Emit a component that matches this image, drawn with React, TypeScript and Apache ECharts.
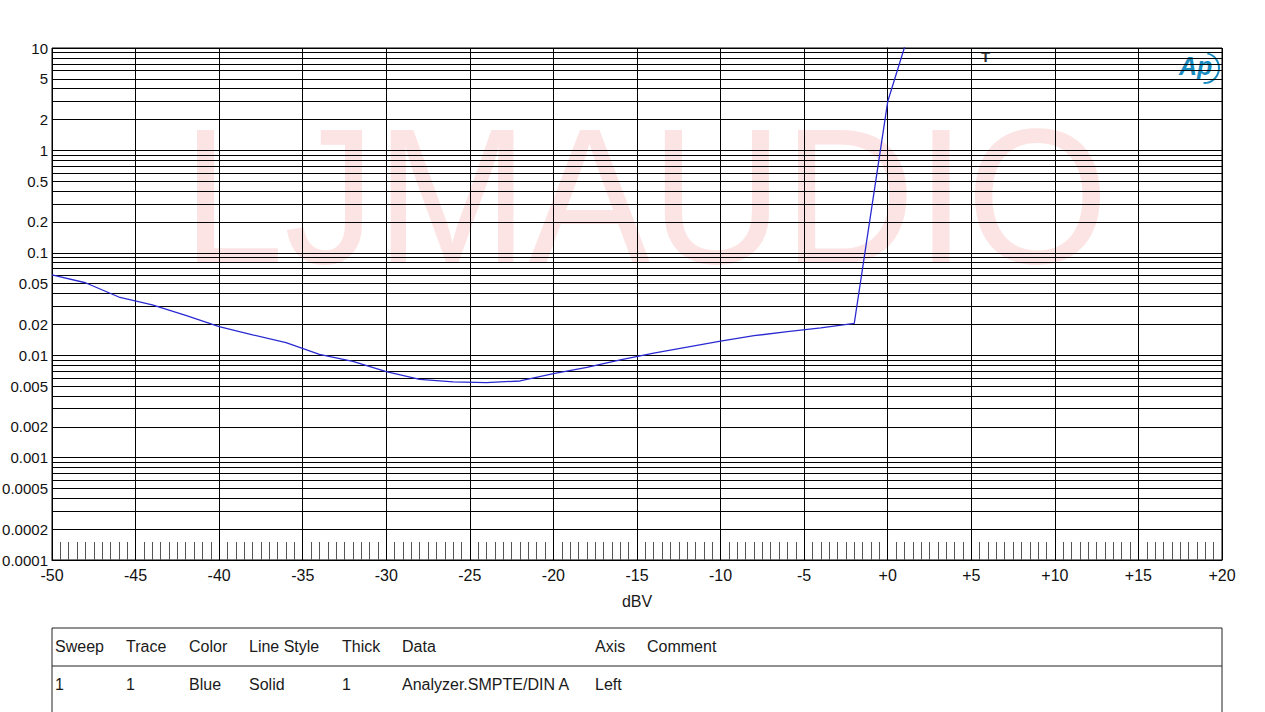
import React, { useEffect, useRef } from "react";
import * as echarts from "echarts";

// ---- Data ----
const levelsDBV: number[] = [
  -50, -48, -46, -44, -42, -40, -38, -36, -34, -32, -30, -28, -26, -24, -22,
  -20, -18, -16, -14, -12, -10, -8, -6, -4, -2, 0, 2,
];
const imdPercent: number[] = [
  0.061, 0.051, 0.037, 0.031, 0.0245, 0.019, 0.0158, 0.0133, 0.0102, 0.0087,
  0.0069, 0.0058, 0.0055, 0.0054, 0.0056, 0.0066, 0.0076, 0.009, 0.0105,
  0.012, 0.0137, 0.0155, 0.017, 0.0185, 0.0205, 3.0, 34,
];
const yLabelValues: number[] = [
  0.0001, 0.0002, 0.0005, 0.001, 0.002, 0.005, 0.01, 0.02, 0.05, 0.1, 0.2,
  0.5, 1, 2, 5, 10,
];
const yGridValues: number[] = (() => {
  const out: number[] = [];
  const decades = [0.0001, 0.001, 0.01, 0.1, 1];
  for (const d of decades) {
    for (let m = 1; m <= 9; m++) out.push(parseFloat((d * m).toPrecision(6)));
  }
  out.push(10);
  return out;
})();
const tableHeaders: string[] = ["Sweep", "Trace", "Color", "Line Style", "Thick", "Data", "Axis", "Comment"];
const tableRow: string[] = ["1", "1", "Blue", "Solid", "1", "Analyzer.SMPTE/DIN A", "Left", ""];
const tableColX: number[] = [55, 126, 189, 249, 342, 402, 595, 647];

const FONT = "'Liberation Sans', Arial, sans-serif";

function fmtY(v: number): string {
  return String(parseFloat(v.toPrecision(6)));
}

export default function App() {
  const ref = useRef<HTMLDivElement>(null);
  useEffect(() => {
    if (!ref.current) return;
    const chart = echarts.init(ref.current, undefined, { renderer: "svg" });
    const seriesData = levelsDBV.map((x, i) => [x, imdPercent[i]]);

    const graphics: any[] = [
      {
        type: "text",
        z: -10,
        left: 182,
        top: 100,
        silent: true,
        scaleX: 0.95,
        style: {
          text: "LJMAUDIO",
          font: `193px ${FONT}`,
          fill: "#fde4e4",
        },
      },
      {
        type: "text",
        left: 981,
        top: 49,
        style: { text: "T", font: `bold 15px ${FONT}`, fill: "#333" },
      },
      {
        type: "text",
        left: 1179,
        top: 53,
        style: { text: "Ap", font: `italic bold 25px ${FONT}`, fill: "#1a8cc0" },
      },
      {
        type: "arc",
        shape: { cx: 1204, cy: 68, r: 15, startAngle: -1.35, endAngle: 1.6, clockwise: true },
        style: { stroke: "#1a8cc0", lineWidth: 2, fill: "none" },
      },
      {
        type: "rect",
        shape: { x: 52, y: 628, width: 1170, height: 120 },
        style: { stroke: "#222", lineWidth: 1, fill: "none" },
      },
      {
        type: "line",
        shape: { x1: 52, y1: 666, x2: 1222, y2: 666 },
        style: { stroke: "#222", lineWidth: 1 },
      },
    ];
    tableHeaders.forEach((h, i) => {
      graphics.push({
        type: "text",
        left: tableColX[i],
        top: 638,
        style: { text: h, font: `16px ${FONT}`, fill: "#1a1a1a" },
      });
    });
    tableRow.forEach((h, i) => {
      if (!h) return;
      graphics.push({
        type: "text",
        left: tableColX[i],
        top: 676,
        style: { text: h, font: `16px ${FONT}`, fill: "#1a1a1a" },
      });
    });

    chart.setOption({
      animation: false,
      backgroundColor: "#fff",
      grid: {
        left: 52,
        right: 43,
        top: 48,
        bottom: 152,
        show: true,
        borderColor: "#000",
        borderWidth: 1,
        containLabel: false,
        outerBoundsMode: "none",
      },
      xAxis: {
        type: "value",
        min: -50,
        max: 20,
        interval: 5,
        name: "dBV",
        nameLocation: "middle",
        nameGap: 33,
        nameTextStyle: { fontFamily: FONT, fontSize: 16, color: "#1a1a1a" },
        axisLine: { show: true, lineStyle: { color: "#000", width: 1 } },
        axisTick: { show: true, inside: true, length: 18, lineStyle: { color: "#000" } },
        minorTick: { show: true, splitNumber: 10, length: 18, lineStyle: { color: "#555", width: 1 } },
        splitLine: { show: true, lineStyle: { color: "#000", width: 1 } },
        axisLabel: {
          fontFamily: FONT,
          fontSize: 16,
          color: "#111",
          margin: 7,
          formatter: (v: number) => (v >= 0 ? "+" + v : String(v)),
        },
      },
      yAxis: {
        type: "log",
        logBase: 10,
        min: 0.0001,
        max: 10,
        axisLine: { show: true, lineStyle: { color: "#000" } },
        axisTick: { show: false, customValues: yGridValues },
        splitLine: { show: true, lineStyle: { color: "#000", width: 1 } },
        axisLabel: {
          customValues: yLabelValues,
          fontFamily: FONT,
          fontSize: 15,
          color: "#111",
          margin: 4,
          formatter: (v: number) => fmtY(v),
        },
      },
      series: [
        {
          type: "line",
          data: seriesData,
          symbol: "none",
          clip: true,
          lineStyle: { color: "#2a2ad2", width: 1.3 },
          z: 5,
        },
      ],
      graphic: graphics,
    });
    return () => chart.dispose();
  }, []);
  return (
    <div
      ref={ref}
      style={{ position: "absolute", left: 0, top: 0, width: 1265, height: 712, background: "#fff" }}
    />
  );
}
